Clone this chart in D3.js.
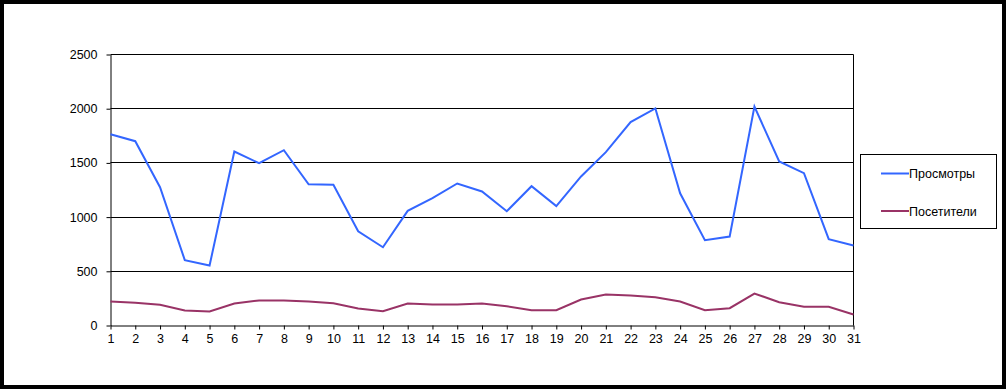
<!DOCTYPE html>
<html>
<head>
<meta charset="utf-8">
<script src="https://cdn.jsdelivr.net/npm/d3@7"></script>
<style>
  body { margin: 0; background: #fff; }
  svg { display: block; font-family: "Liberation Sans", Arial, sans-serif; }
</style>
</head>
<body>
<svg id="chart"></svg>
<script>
// days of month
var days = d3.range(1, 32);
var views = [1765, 1700, 1276, 603, 553, 1605, 1497, 1617, 1303, 1298,
             869, 722, 1058, 1175, 1310, 1236, 1054, 1285, 1101, 1375,
             1599, 1876, 2003, 1220, 787, 821, 2020, 1513, 1405, 796, 738];
var visitors = [221, 209, 191, 138, 129, 203, 231, 231, 221, 206,
                157, 132, 203, 194, 194, 203, 178, 141, 141, 240,
                286, 277, 261, 221, 141, 160, 295, 215, 172, 172, 101];
var yTicks = [0, 500, 1000, 1500, 2000, 2500];
var seriesNames = ["Просмотры", "Посетители"];
var seriesColors = ["#3366ff", "#993366"];

var width = 1007, height = 390;
var svg = d3.select('#chart').attr('width', width).attr('height', height);

// outer frame
svg.append('rect')
   .attr('x', 2).attr('y', 2)
   .attr('width', width - 5).attr('height', height - 5)
   .attr('fill', '#fff').attr('stroke', '#000').attr('stroke-width', 4);

var plotLeft = 110.5, plotRight = 853.5, plotTop = 54.5, plotBottom = 325.5;

var x = d3.scalePoint().domain(days).range([plotLeft, plotRight]);
var y = d3.scaleLinear().domain([0, 2500]).range([plotBottom, plotTop]);

// gridlines
svg.append('g').selectAll('line')
   .data(yTicks.filter(function(d){ return d > 0; }))
   .enter().append('line')
   .attr('x1', plotLeft).attr('x2', plotRight)
   .attr('y1', function(d){ return Math.round(y(d) - 0.5) + 0.5; })
   .attr('y2', function(d){ return Math.round(y(d) - 0.5) + 0.5; })
   .attr('stroke', '#000').attr('stroke-width', 1);

// right border of plot area
svg.append('line')
   .attr('x1', plotRight).attr('x2', plotRight).attr('y1', plotTop).attr('y2', plotBottom)
   .attr('stroke', '#000');

// y axis
svg.append('g')
   .attr('transform', 'translate(' + plotLeft + ',0)')
   .call(d3.axisLeft(y).tickValues(yTicks).tickFormat(d3.format('d'))
         .tickSize(4).tickPadding(9).tickSizeOuter(0));

// x axis
svg.append('g')
   .attr('transform', 'translate(0,' + plotBottom + ')')
   .call(d3.axisBottom(x).tickSize(4).tickPadding(5).tickSizeOuter(0));

svg.selectAll('.domain, .tick line').attr('stroke', '#000');
svg.selectAll('.tick text').attr('fill', '#000').style('font-size', '12.5px')
   .style('font-family', '"Liberation Sans", Arial, sans-serif');

// lines
var line = d3.line()
   .x(function(d, i){ return x(days[i]); })
   .y(function(d){ return y(d); });

[views, visitors].forEach(function(s, i){
  svg.append('path')
     .datum(s)
     .attr('d', line)
     .attr('fill', 'none')
     .attr('stroke', seriesColors[i])
     .attr('stroke-width', 2)
     .attr('stroke-linejoin', 'miter');
});

// legend
var legend = svg.append('g');
legend.append('rect')
   .attr('x', 860.5).attr('y', 154.5).attr('width', 136).attr('height', 74)
   .attr('fill', '#fff').attr('stroke', '#000');
seriesNames.forEach(function(name, i){
  var ly = 173.5 + i * 37.5;
  legend.append('line')
     .attr('x1', 881).attr('x2', 909).attr('y1', ly).attr('y2', ly)
     .attr('stroke', seriesColors[i]).attr('stroke-width', 2);
  legend.append('text')
     .attr('x', 909).attr('y', ly + 4.5)
     .style('font-size', '12.5px')
     .text(name);
});
</script>
</body>
</html>
